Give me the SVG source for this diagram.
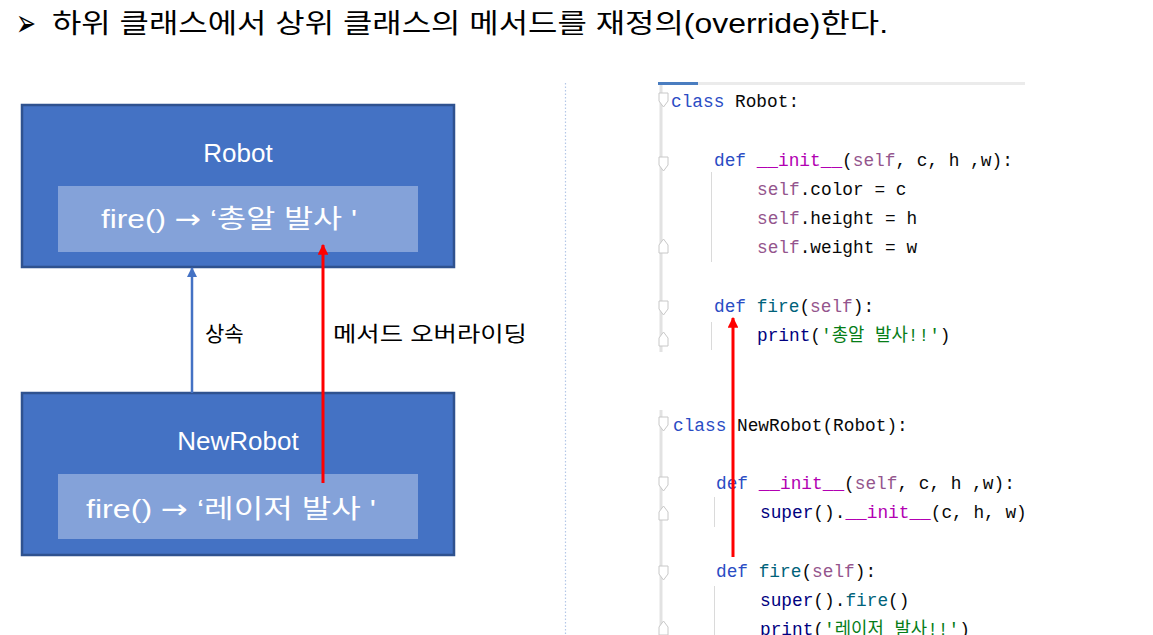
<svg xmlns="http://www.w3.org/2000/svg" width="1153" height="635" viewBox="0 0 1153 635">
<style>
.title{font-family:"Liberation Sans","Noto Sans CJK KR",sans-serif;font-size:27px;fill:#000}
.box{fill:#4472C4;stroke:#2F528F;stroke-width:2.5}
.inner{fill:#84A2D9}
.wt{font-family:"Liberation Sans","Noto Sans CJK KR",sans-serif;font-size:26px;fill:#fff}
.arr{font-family:"DejaVu Sans",sans-serif}
.lbl{font-family:"Liberation Sans","Noto Sans CJK KR",sans-serif;font-size:21px;fill:#000}
.code{font-family:"Liberation Mono","Noto Sans CJK KR",monospace;font-size:17.8px;fill:#080808;white-space:pre}
.kw{fill:#2A4CC4}.sf{fill:#94558D}.mg{fill:#B200B2}.fn{fill:#00627A}.bi{fill:#000080}.st{fill:#067D17}
.gut{stroke:#E2E2E2;stroke-width:3;fill:none}
.guide{stroke:#DADADA;stroke-width:1}
.fold{fill:#fff;stroke:#C8C8C8;stroke-width:1}
</style>
<defs>
<marker id="ab" viewBox="0 0 10 10" refX="9" refY="5" markerWidth="4" markerHeight="4" orient="auto"><path d="M0,0 L10,5 L0,10 z" fill="#4472C4"/></marker>
<marker id="ar" viewBox="0 0 10 10" refX="9" refY="5" markerWidth="3.6" markerHeight="3.6" orient="auto"><path d="M0,0 L10,5 L0,10 z" fill="#FF0000"/></marker>
</defs>
<rect width="1153" height="635" fill="#fff"/>
<text x="16" y="36" textLength="20" lengthAdjust="spacingAndGlyphs" style="font-family:'DejaVu Sans',sans-serif;font-size:38px">➢</text>
<text class="title" x="52" y="33" textLength="836" lengthAdjust="spacingAndGlyphs">하위 클래스에서 상위 클래스의 메서드를 재정의(override)한다.</text>
<line x1="565.5" y1="83" x2="565.5" y2="635" stroke="#B4C7E7" stroke-width="1.2" stroke-dasharray="1.5 2"/>
<g id="robot">
<rect class="box" x="22" y="105" width="432" height="162"/>
<rect class="inner" x="58" y="186" width="360" height="66"/>
<text class="wt" x="238" y="162" text-anchor="middle">Robot</text>
<text class="wt" x="101" y="228" textLength="256" lengthAdjust="spacingAndGlyphs">fire() <tspan class="arr">→</tspan> ‘총알 발사 '</text>
</g>
<g id="newrobot">
<rect class="box" x="22" y="393" width="432" height="162"/>
<rect class="inner" x="58" y="474" width="360" height="65"/>
<text class="wt" x="238" y="450" text-anchor="middle">NewRobot</text>
<text class="wt" x="86" y="518" textLength="290" lengthAdjust="spacingAndGlyphs">fire() <tspan class="arr">→</tspan> ‘레이저 발사 '</text>
</g>
<g id="connectors">
<line x1="192" y1="393" x2="192" y2="268" stroke="#4472C4" stroke-width="2.5" marker-end="url(#ab)"/>
<line x1="323" y1="483" x2="323" y2="245" stroke="#FF0000" stroke-width="3" marker-end="url(#ar)"/>
<text class="lbl" x="205" y="341">상속</text>
<text class="lbl" x="333" y="341" textLength="194" lengthAdjust="spacingAndGlyphs">메서드 오버라이딩</text>
</g>
<g id="code">
<rect x="658" y="82" width="367" height="3" fill="#EBEBEB"/>
<rect x="658" y="82" width="40" height="3" fill="#4A7DC0"/>
<line class="gut" x1="661" y1="85" x2="661" y2="352"/>
<line class="gut" x1="661" y1="410" x2="661" y2="635"/>
<line class="guide" x1="711.5" y1="172" x2="711.5" y2="262"/>
<line class="guide" x1="711.5" y1="322" x2="711.5" y2="350"/>
<line class="guide" x1="714.5" y1="497" x2="714.5" y2="527"/>
<line class="guide" x1="714.5" y1="586" x2="714.5" y2="635"/>
<path class="fold" d="M659,93 h9 v8 l-4.5,6 l-4.5,-6 z"/>
<path class="fold" d="M659,157 h9 v8 l-4.5,6 l-4.5,-6 z"/>
<path class="fold" d="M659,253 h9 v-8 l-4.5,-6 l-4.5,6 z"/>
<path class="fold" d="M659,301 h9 v8 l-4.5,6 l-4.5,-6 z"/>
<path class="fold" d="M659,346 h9 v-8 l-4.5,-6 l-4.5,6 z"/>
<path class="fold" d="M659,417 h9 v8 l-4.5,6 l-4.5,-6 z"/>
<path class="fold" d="M659,477 h9 v8 l-4.5,6 l-4.5,-6 z"/>
<path class="fold" d="M659,520 h9 v-8 l-4.5,-6 l-4.5,6 z"/>
<path class="fold" d="M659,566 h9 v8 l-4.5,6 l-4.5,-6 z"/>
<path class="fold" d="M659,635 h9 v-8 l-4.5,-6 l-4.5,6 z"/>
<text class="code" x="671" y="107"><tspan class="kw">class</tspan> Robot:</text>
<text class="code" x="714" y="166"><tspan class="kw">def</tspan> <tspan class="mg">__init__</tspan>(<tspan class="sf">self</tspan>, c, h ,w):</text>
<text class="code" x="757" y="195"><tspan class="sf">self</tspan>.color = c</text>
<text class="code" x="757" y="224"><tspan class="sf">self</tspan>.height = h</text>
<text class="code" x="757" y="253"><tspan class="sf">self</tspan>.weight = w</text>
<text class="code" x="714" y="312"><tspan class="kw">def</tspan> <tspan class="fn">fire</tspan>(<tspan class="sf">self</tspan>):</text>
<text class="code" x="757" y="341"><tspan class="bi">print</tspan>(<tspan class="st">'총알 발사!!'</tspan>)</text>
<text class="code" x="673" y="431"><tspan class="kw">class</tspan> NewRobot(Robot):</text>
<text class="code" x="716" y="489"><tspan class="kw">def</tspan> <tspan class="mg">__init__</tspan>(<tspan class="sf">self</tspan>, c, h ,w):</text>
<text class="code" x="760" y="518"><tspan class="bi">super</tspan>().<tspan class="mg">__init__</tspan>(c, h, w)</text>
<text class="code" x="716" y="577"><tspan class="kw">def</tspan> <tspan class="fn">fire</tspan>(<tspan class="sf">self</tspan>):</text>
<text class="code" x="760" y="606"><tspan class="bi">super</tspan>().<tspan class="fn">fire</tspan>()</text>
<text class="code" x="760" y="635"><tspan class="bi">print</tspan>(<tspan class="st">'레이저 발사!!'</tspan>)</text>
<line x1="733" y1="557" x2="733" y2="318" stroke="#FF0000" stroke-width="3" marker-end="url(#ar)"/>
</g>
</svg>
